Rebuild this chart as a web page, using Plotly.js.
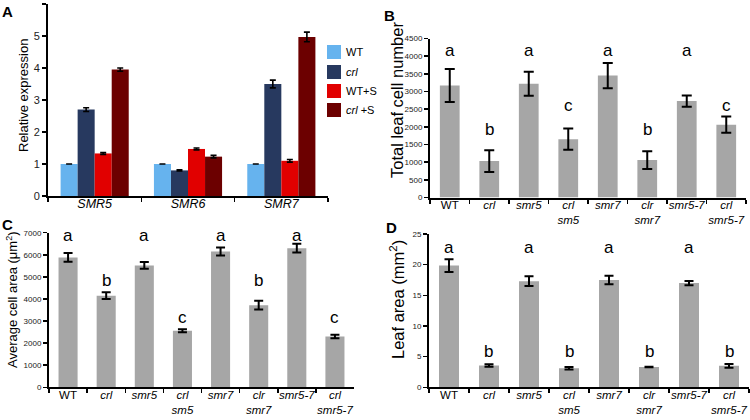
<!DOCTYPE html>
<html>
<head>
<meta charset="utf-8">
<script src="https://cdn.plot.ly/plotly-3.0.1.min.js"></script>
<style>html,body{margin:0;padding:0;background:#fff;}#chart{width:750px;height:420px;}</style>
</head>
<body>
<div id="chart"></div>
<script>
// ---------- Panel A data ----------
const genesA = ['SMR5', 'SMR6', 'SMR7'];
const seriesA = ['WT', 'crl', 'WT+S', 'crl +S'];
const seriesLabelsA = ['WT', '<i>crl</i>', 'WT+S', '<i>crl</i> +S'];
const colorsA = ['#66b3ee', '#27395f', '#e10000', '#6c0000'];
const exprWT = [1.00, 1.00, 1.00];
const exprCrl = [2.70, 0.80, 3.50];
const exprWTS = [1.33, 1.47, 1.10];
const exprCrlS = [3.95, 1.23, 4.97];
const errWT = [0, 0, 0];
const errCrl = [0.06, 0.02, 0.12];
const errWTS = [0.03, 0.03, 0.04];
const errCrlS = [0.05, 0.04, 0.15];

// ---------- Panels B-D data ----------
const genotypes = ['WT', 'crl', 'smr5', 'crl sm5', 'smr7', 'clr smr7', 'smr5-7', 'crl smr5-7'];
const genotypeTicks = ['WT', '<i>crl</i>', '<i>smr5</i>', '<i>crl</i><br><i>sm5</i>', '<i>smr7</i>',
  '<i>clr</i><br><i>smr7</i>', '<i>smr5-7</i>', '<i>crl</i><br><i>smr5-7</i>'];

const cellNumber = [3170, 1030, 3220, 1650, 3450, 1060, 2730, 2060];
const cellNumberErr = [470, 310, 340, 300, 360, 250, 160, 230];
const cellNumberLetters = ['a', 'b', 'a', 'c', 'a', 'b', 'a', 'c'];

const cellArea = [5880, 4150, 5520, 2560, 6150, 3720, 6300, 2300];
const cellAreaErr = [200, 150, 150, 70, 180, 200, 200, 80];
const cellAreaLetters = ['a', 'b', 'a', 'c', 'a', 'b', 'a', 'c'];

const leafArea = [19.85, 3.55, 17.3, 3.1, 17.5, 3.3, 17.0, 3.5];
const leafAreaErr = [1.05, 0.2, 0.8, 0.2, 0.7, 0.05, 0.35, 0.3];
const leafAreaLetters = ['a', 'b', 'a', 'b', 'a', 'b', 'a', 'b'];

// ---------- layout helpers ----------
const W = 750, H = 420;
const px = v => v / W;
const py = v => 1 - v / H;
const FONT = 'Liberation Sans, Arial, Helvetica, sans-serif';
const GRAY = '#a6a6a6';

const traces = [];
const seriesValsA = [exprWT, exprCrl, exprWTS, exprCrlS];
const seriesErrA = [errWT, errCrl, errWTS, errCrlS];
seriesA.forEach((name, i) => {
  traces.push({
    type: 'bar', name: name, x: genesA, y: seriesValsA[i],
    xaxis: 'x', yaxis: 'y', showlegend: false,
    marker: {color: colorsA[i]},
    error_y: {type: 'data', array: seriesErrA[i], visible: true, color: '#000', thickness: 1.6, width: 3}
  });
});

function grayBars(vals, errs, xa, ya, cap) {
  return {
    type: 'bar', x: genotypes, y: vals, xaxis: xa, yaxis: ya, width: 0.5, showlegend: false,
    marker: {color: GRAY},
    error_y: {type: 'data', array: errs, visible: true, color: '#000', thickness: 2, width: cap}
  };
}
traces.push(grayBars(cellNumber, cellNumberErr, 'x2', 'y2', 5));
traces.push(grayBars(cellArea, cellAreaErr, 'x3', 'y3', 4.5));
traces.push(grayBars(leafArea, leafAreaErr, 'x4', 'y4', 4.5));

function yAxis(domain, range, dtick, anchor, fsize) {
  return {
    domain: domain, range: range, dtick: dtick, anchor: anchor,
    showline: true, linecolor: '#000', linewidth: 2, showgrid: false, zeroline: false,
    ticks: 'outside', ticklen: 4, tickwidth: 1.5, tickcolor: '#000',
    tickfont: {family: FONT, size: fsize, color: '#222'}, fixedrange: true
  };
}
function xAxis(domain, anchor, ticktext, cats, fsize, standoff) {
  return {
    domain: domain, anchor: anchor, type: 'category',
    tickmode: 'array', tickvals: cats, ticktext: ticktext, tickangle: 0,
    ticklabelstandoff: standoff,
    showline: true, linecolor: '#000', linewidth: 2, showgrid: false, zeroline: false,
    ticks: 'outside', tickson: 'boundaries', ticklen: 4, tickwidth: 1.5, tickcolor: '#000',
    tickfont: {family: FONT, size: fsize, color: '#000'}, fixedrange: true
  };
}

const annotations = [];
const shapes = [];
function paperText(text, x, y, size, opts) {
  annotations.push(Object.assign({
    text: text, x: px(x), y: py(y), xref: 'paper', yref: 'paper', showarrow: false,
    font: {family: FONT, size: size, color: '#000'}, xanchor: 'center', yanchor: 'middle'
  }, opts || {}));
}
// Panel letters
paperText('<b>A</b>', 7, 11, 15);
paperText('<b>B</b>', 389, 16, 15);
paperText('<b>C</b>', 7, 224, 15);
paperText('<b>D</b>', 391, 228, 15);
// Axis titles
paperText('Relative expression', 24, 96, 13, {textangle: -90});
paperText('Total leaf cell number', 397, 100, 16.5, {textangle: -90});
paperText('Average cell area (\u03bcm<sup>2</sup>)', 12, 300, 13, {textangle: -90});
paperText('Leaf area (mm<sup>2</sup>)', 397, 300, 16.5, {textangle: -90});

// Legend for panel A
const legendY = [52, 72, 91, 110];
seriesA.forEach((name, i) => {
  shapes.push({type: 'rect', xref: 'paper', yref: 'paper',
    x0: px(327), x1: px(341), y0: py(legendY[i] + 7), y1: py(legendY[i] - 7),
    fillcolor: colorsA[i], line: {width: 0}});
  paperText(seriesLabelsA[i], 344, legendY[i], 11, {xanchor: 'left'});
});

// Significance letters
function letters(list, heights, xa, ya) {
  list.forEach((l, i) => {
    annotations.push({text: l, x: genotypes[i], y: heights[l], xref: xa, yref: ya, showarrow: false,
      font: {family: FONT, size: 17, color: '#000'}, xanchor: 'center', yanchor: 'middle'});
  });
}
letters(cellNumberLetters, {a: 4150, b: 1930, c: 2610}, 'x2', 'y2');
letters(cellAreaLetters, {a: 6880, b: 4830, c: 3160}, 'x3', 'y3');
letters(leafAreaLetters, {a: 22.8, b: 5.9}, 'x4', 'y4');

const layout = {
  width: W, height: H, margin: {l: 0, r: 0, t: 0, b: 0},
  paper_bgcolor: '#fff', plot_bgcolor: '#fff',
  barmode: 'group', bargap: 0.27, bargroupgap: 0,
  showlegend: false,
  font: {family: FONT},
  xaxis: xAxis([px(48), px(328)], 'y', genesA.map(g => '<i>' + g + '</i>'), genesA, 12.5, -5),
  yaxis: yAxis([py(196), py(4)], [0, 6], 1, 'x', 11),
  xaxis2: xAxis([px(430), px(746)], 'y2', genotypeTicks, genotypes, 11.5, -4),
  yaxis2: yAxis([py(197.5), py(38.5)], [0, 4500], 500, 'x2', 8),
  xaxis3: xAxis([px(49), px(354)], 'y3', genotypeTicks, genotypes, 11.5, -4),
  yaxis3: yAxis([py(387.3), py(232.7)], [0, 7000], 1000, 'x3', 8),
  xaxis4: xAxis([px(429), px(749)], 'y4', genotypeTicks, genotypes, 11.5, -4),
  yaxis4: yAxis([py(387.3), py(234)], [0, 25], 5, 'x4', 8),
  annotations: annotations,
  shapes: shapes
};

Plotly.newPlot('chart', traces, layout, {displayModeBar: false, staticPlot: true});
</script>
</body>
</html>
